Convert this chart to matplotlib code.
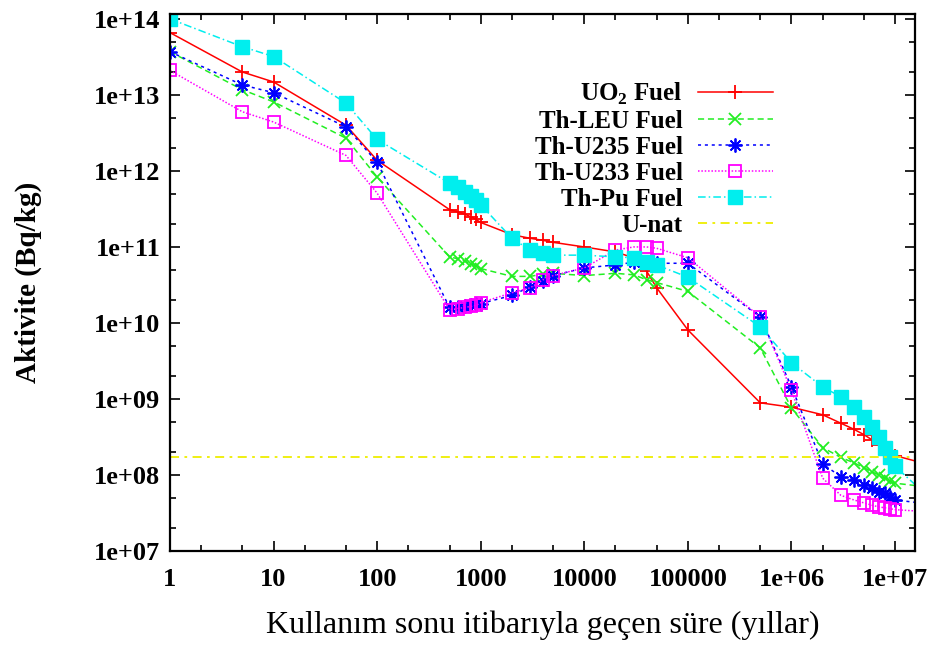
import numpy as np
import matplotlib
matplotlib.use('Agg')
import matplotlib.pyplot as plt
from matplotlib import ticker

plt.rcParams['font.family'] = ['Liberation Serif', 'DejaVu Serif']
plt.rcParams['mathtext.fontset'] = 'custom'
plt.rcParams['mathtext.rm'] = 'Liberation Serif:bold'
plt.rcParams['mathtext.bf'] = 'Liberation Serif:bold'

# data
times = [1, 5, 10, 50, 100, 500, 600, 700, 800, 900, 1000, 2000, 3000, 4000, 5000,
         1e4, 2e4, 3e4, 4e4, 5e4, 1e5, 5e5, 1e6, 2e6, 3e6, 4e6, 5e6, 6e6, 7e6, 8e6, 9e6, 1e7, 2e7]

uo2 = [6.6e13, 2.0e13, 1.48e13, 4.0e12, 1.38e12, 3.1e11, 2.9e11, 2.7e11, 2.5e11, 2.3e11, 2.1e11,
       1.45e11, 1.3e11, 1.22e11, 1.15e11, 1.0e11, 8.6e10, 7.2e10, 4.8e10, 2.9e10, 8.1e9,
       8.9e8, 7.8e8, 6.2e8, 4.8e8, 4.0e8, 3.4e8, 2.9e8, 2.5e8, 2.2e8, 2.0e8, 1.8e8, 1.4e8]
th_leu = [3.7e13, 1.17e13, 8.1e12, 2.7e12, 8.3e11, 7.4e10, 7.0e10, 6.5e10, 6.0e10, 5.6e10, 5.2e10,
          4.1e10, 4.1e10, 4.4e10, 4.5e10, 4.2e10, 4.5e10, 4.3e10, 3.7e10, 3.4e10, 2.6e10,
          4.7e9, 7.6e8, 2.3e8, 1.7e8, 1.45e8, 1.25e8, 1.1e8, 1.0e8, 9.0e7, 8.3e7, 7.8e7, 7.0e7]
th_u235 = [3.7e13, 1.35e13, 1.07e13, 3.8e12, 1.3e12, 1.6e10, 1.6e10, 1.65e10, 1.7e10, 1.75e10, 1.8e10,
           2.3e10, 3.0e10, 3.6e10, 4.2e10, 5.3e10, 5.8e10, 6.3e10, 6.3e10, 6.1e10, 6.1e10,
           1.2e10, 1.45e9, 1.4e8, 9.5e7, 8.6e7, 7.4e7, 6.8e7, 6.0e7, 5.8e7, 5.1e7, 4.7e7, 4.2e7]
th_u233 = [2.1e13, 6.0e12, 4.4e12, 1.6e12, 5.1e11, 1.5e10, 1.55e10, 1.6e10, 1.65e10, 1.7e10, 1.85e10,
           2.5e10, 2.9e10, 3.7e10, 4.2e10, 5.3e10, 9.1e10, 1.0e11, 1.0e11, 9.6e10, 7.2e10,
           1.2e10, 1.3e9, 9.1e7, 5.4e7, 4.7e7, 4.3e7, 4.0e7, 3.8e7, 3.7e7, 3.6e7, 3.5e7, 3.3e7]
th_pu = [1.0e14, 4.3e13, 3.2e13, 7.8e12, 2.6e12, 6.9e11, 6.2e11, 5.3e11, 4.7e11, 4.2e11, 3.6e11,
         1.3e11, 9.1e10, 8.3e10, 7.8e10, 7.8e10, 7.4e10, 7.2e10, 6.3e10, 5.8e10, 4.0e10,
         8.9e9, 3.0e9, 1.44e9, 1.07e9, 7.8e8, 5.8e8, 4.3e8, 3.2e8, 2.3e8, 1.7e8, 1.3e8, 5.5e7]
u_nat = 1.7e8

xticks = [1, 10, 100, 1000, 1e4, 1e5, 1e6, 1e7]
xtick_labels = ['1', '10', '100', '1000', '10000', '100000', '1e+06', '1e+07']
yticks = [1e7, 1e8, 1e9, 1e10, 1e11, 1e12, 1e13, 1e14]
ytick_labels = ['1e+07', '1e+08', '1e+09', '1e+10', '1e+11', '1e+12', '1e+13', '1e+14']

fig = plt.figure(figsize=(9.36, 6.45), dpi=100)
ax = fig.add_axes([0.1816, 0.1457, 0.7960, 0.8326])

ax.plot(times, uo2, color='#ff0000', lw=1.1, ls='-', marker='+', ms=10, mew=1.3,
        label='UO$_2$ Fuel')
ax.plot(times, th_leu, color='#22ee22', lw=1.1, ls=(0, (4, 2.5)), marker='x', ms=8, mew=1.3,
        label='Th-LEU Fuel')
ax.plot(times, th_u235, color='#0000ff', lw=1.1, ls=(0, (2, 2.5)), marker=(8, 2, 0), ms=10, mew=1.3,
        label='Th-U235 Fuel')
ax.plot(times, th_u233, color='#ff00ff', lw=1.1, ls=(0, (1, 1.2)), marker='s', ms=8, mew=1.3,
        mfc='none', label='Th-U233 Fuel')
ax.plot(times, th_pu, color='#00eeee', lw=1.1, ls=(0, (5, 2, 1, 2)), marker='s', ms=9.5,
        label='Th-Pu Fuel')
ax.axhline(u_nat, color='#eeee00', lw=1.3, ls=(0, (5, 3, 1.5, 3)), label='U-nat')

ax.set_xscale('log')
ax.set_yscale('log')
ax.set_xlim(1, 1.56e7)
ax.set_ylim(1e7, 1.16e14)

ax.xaxis.set_major_locator(ticker.FixedLocator(xticks))
ax.xaxis.set_major_formatter(ticker.FixedFormatter(xtick_labels))
ax.yaxis.set_major_locator(ticker.FixedLocator(yticks))
ax.yaxis.set_major_formatter(ticker.FixedFormatter(ytick_labels))
ax.xaxis.set_minor_locator(ticker.LogLocator(base=10, subs=[2, 5], numticks=20))
ax.yaxis.set_minor_locator(ticker.LogLocator(base=10, subs=[2, 5], numticks=20))
ax.xaxis.set_minor_formatter(ticker.NullFormatter())
ax.yaxis.set_minor_formatter(ticker.NullFormatter())

ax.tick_params(which='both', direction='in', top=True, right=True, width=1.2)
ax.tick_params(which='major', length=7)
ax.tick_params(which='minor', length=4)
ax.tick_params(axis='x', pad=12)
ax.tick_params(axis='y', pad=7)
for lab in ax.get_xticklabels() + ax.get_yticklabels():
    lab.set_fontweight('bold')
    lab.set_fontsize(19)
for sp in ax.spines.values():
    sp.set_linewidth(1.6)

ax.set_xlabel('Kullanım sonu itibarıyla geçen süre (yıllar)', fontsize=23, labelpad=14)
ax.set_ylabel('Aktivite (Bq/kg)', fontsize=21, fontweight='bold', labelpad=37)

leg = ax.legend(loc='upper right', bbox_to_anchor=(0.809, 0.876), frameon=False,
                markerfirst=False, handlelength=3.0, handletextpad=0.6, labelspacing=0.12,
                borderpad=0, borderaxespad=0, prop={'weight': 'bold', 'size': 18})

fig.savefig('out.png', dpi=100)
